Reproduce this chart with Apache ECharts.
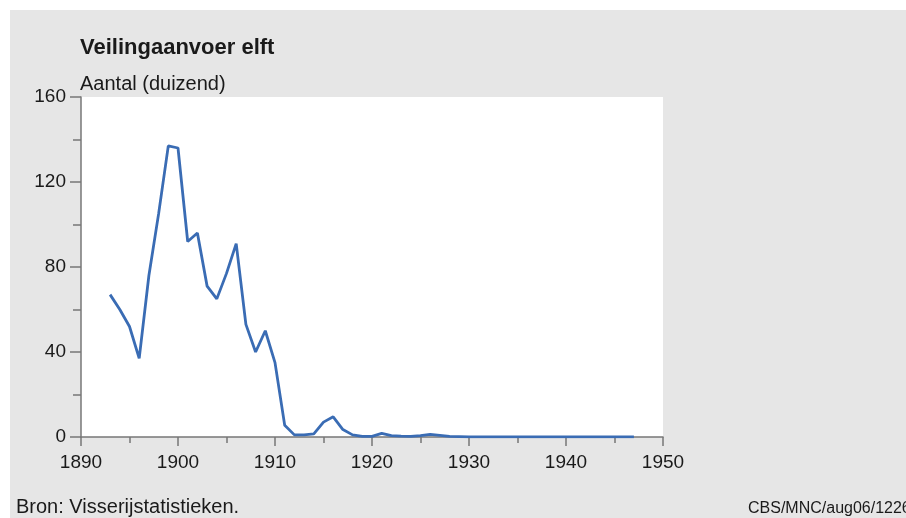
<!DOCTYPE html>
<html>
<head>
<meta charset="utf-8">
<script src="https://cdn.jsdelivr.net/npm/echarts@6/dist/echarts.min.js"></script>
<style>
html,body{margin:0;padding:0;background:#fff;}
#c{position:absolute;left:10px;top:10px;width:896px;height:508px;}
</style>
</head>
<body>
<div id="c"></div>
<script>
const years = [1893,1894,1895,1896,1897,1898,1899,1900,1901,1902,1903,1904,1905,1906,1907,1908,1909,1910,
  1911,1912,1913,1914,1915,1916,1917,1918,1919,1920,1921,1922,1923,1924,1925,1926,1927,1928,1929,1930,
  1931,1932,1933,1934,1935,1936,1937,1938,1939,1940,1941,1942,1943,1944,1945,1946,1947];
const values = [67,60,52,37,76,105,137,136,92,96,71,65,77,91,53,40,50,35,
  5.5,1,1,1.5,7,9.5,3.5,1,0.3,0.3,1.7,0.6,0.4,0.3,0.6,1.2,0.8,0.3,0.2,0.1,
  0.1,0.1,0.1,0.1,0.1,0.1,0.1,0.1,0.1,0.1,0.1,0.1,0.1,0.1,0.1,0.1,0.1];
const xTicks = [1890,1900,1910,1920,1930,1940,1950];
const yTicks = [0,40,80,120,160];

const font = '"Liberation Sans", Arial, sans-serif';
const txt = '#1a1a1a';
const axisCol = '#777777';

const chart = echarts.init(document.getElementById('c'), null, {renderer:'canvas'});
chart.setOption({
  backgroundColor: '#e6e6e6',
  animation: false,
  title: [
    {text: 'Veilingaanvoer elft', left: 70, top: 27, padding: 0,
     textStyle: {fontFamily: font, fontSize: 22, fontWeight: 'bold', color: txt}},
    {text: 'Aantal (duizend)', left: 70, top: 64, padding: 0,
     textStyle: {fontFamily: font, fontSize: 20, fontWeight: 'normal', color: txt}},
    {text: 'Bron: Visserijstatistieken.', left: 6, top: 487, padding: 0,
     textStyle: {fontFamily: font, fontSize: 20, fontWeight: 'normal', color: txt}},
    {text: 'CBS/MNC/aug06/1226', left: 738, top: 491, padding: 0,
     textStyle: {fontFamily: font, fontSize: 16, fontWeight: 'normal', color: txt}}
  ],
  grid: {left: 71, top: 87, right: 243, bottom: 81, show: true, backgroundColor: '#ffffff', borderWidth: 0},
  xAxis: {
    type: 'value', min: xTicks[0], max: xTicks[xTicks.length-1], interval: 10,
    axisLine: {show: true, onZero: false, lineStyle: {color: axisCol, width: 1.5}},
    axisTick: {show: true, length: 9, lineStyle: {color: axisCol, width: 1.5}},
    minorTick: {show: true, splitNumber: 2, length: 6, lineStyle: {color: axisCol, width: 1.5}},
    splitLine: {show: false},
    axisLabel: {margin: 16, fontFamily: font, fontSize: 19, color: txt,
      formatter: v => xTicks.includes(v) ? String(v) : ''}
  },
  yAxis: {
    type: 'value', min: yTicks[0], max: yTicks[yTicks.length-1], interval: 40,
    axisLine: {show: true, lineStyle: {color: axisCol, width: 1.5}},
    axisTick: {show: true, length: 11, lineStyle: {color: axisCol, width: 1.5}},
    minorTick: {show: true, splitNumber: 2, length: 8, lineStyle: {color: axisCol, width: 1.5}},
    splitLine: {show: false},
    axisLabel: {margin: 15, fontFamily: font, fontSize: 19, color: txt,
      formatter: v => yTicks.includes(v) ? String(v) : ''}
  },
  series: [{
    type: 'line',
    data: years.map((y, i) => [y, values[i]]),
    showSymbol: false,
    smooth: false,
    lineStyle: {color: '#3a6cb4', width: 2.8},
    itemStyle: {color: '#3a6cb4'}
  }]
});
</script>
</body>
</html>
